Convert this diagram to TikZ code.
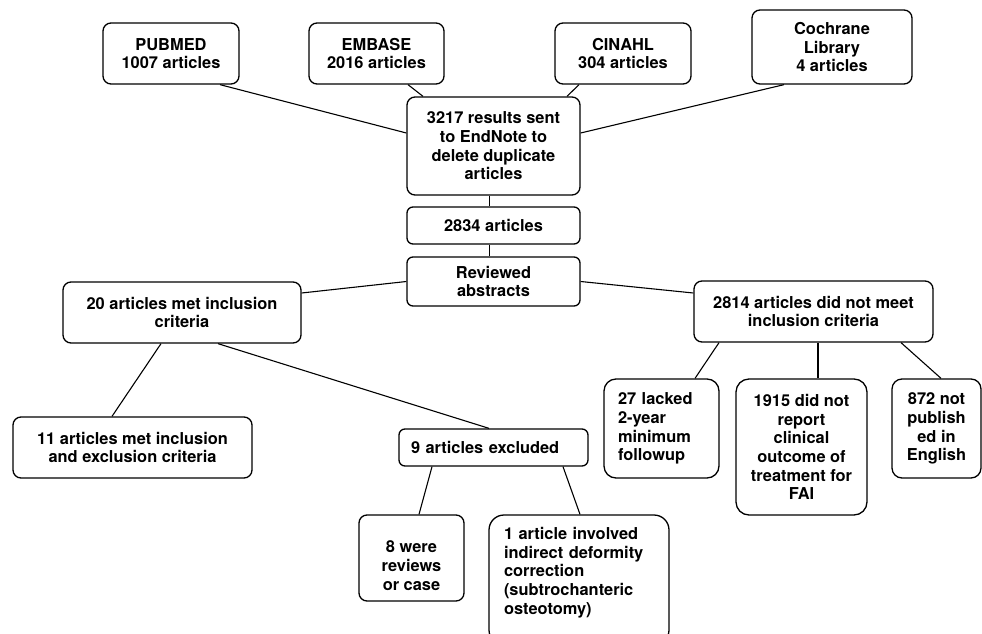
\documentclass[tikz,border=0pt]{standalone}
\usepackage{fontspec}
\setmainfont{TeX Gyre Heros}

\begin{document}
\begin{tikzpicture}[x=1pt, y=-1pt,
    box/.style={draw, line width=1.3pt, rounded corners=#1, inner sep=0pt,
        align=center, font=\bfseries\fontsize{16.4}{18.7}\selectfont},
    box/.default=8pt,
    link/.style={line width=1.1pt}]
    \useasboundingbox (0, 0) rectangle (982, 634);
    \clip (0, 0) rectangle (982, 634);

    % sources
    \node[box, minimum width=136pt, minimum height=61pt] (pubmed) at (171, 53.5) {PUBMED\\1007 articles};
    \node[box, minimum width=135pt, minimum height=61pt] (embase) at (376.5, 53.5) {EMBASE\\2016 articles};
    \node[box, minimum width=136pt, minimum height=61pt] (cinahl) at (623, 53.5) {CINAHL\\304 articles};
    \node[box, minimum width=160pt, minimum height=74pt] (cochrane) at (832, 47) {Cochrane\\Library\\4 articles};

    % screening
    \node[box, minimum width=173pt, minimum height=98pt] (endnote) at (493.5, 146) {3217 results sent\\to EndNote to\\delete duplicate\\articles};
    \node[box=6pt, minimum width=173pt, minimum height=37pt] (total) at (493.5, 225.5) {2834 articles};
    \node[box=6pt, minimum width=173pt, minimum height=49pt] (reviewed) at (493.5, 281.5) {Reviewed\\abstracts};

    % included
    \node[box, minimum width=238pt, minimum height=61pt] (met) at (182, 312.5) {20 articles met inclusion\\criteria};
    \node[box, minimum width=239pt, minimum height=61pt] (final) at (132.5, 447.5) {11 articles met inclusion\\and exclusion criteria};
    \node[box=6pt, align=left, text width=165pt, inner xsep=12pt, minimum height=37pt] (excluded) at (493.5, 447.5) {9 articles excluded};
    \node[box, minimum width=105pt, minimum height=86pt] (reviews) at (411.5, 558) {\rule{0pt}{27pt}8 were\\reviews\\or case};
    \node[box=15pt, align=left, text width=150pt, inner xsep=15pt, minimum height=130pt] (indirect) at (579, 580) {1 article involved\\indirect deformity\\correction\\(subtrochanteric\\osteotomy)\rule[-18.5pt]{0pt}{1pt}};

    % not included
    \node[box, minimum width=239pt, minimum height=61pt] (notmet) at (813.5, 311.5) {2814 articles did not meet\\inclusion criteria};
    \node[box=12pt, align=left, text width=87pt, inner xsep=14pt, minimum height=99pt] (followup) at (661.5, 428.5) {27 lacked\\2-year\\minimum\\followup};
    \node[box=13pt, minimum width=131pt, minimum height=136pt] (outcome) at (801.5, 447) {1915 did not\\report\\clinical\\outcome of\\treatment for\\FAI};
    \node[box=10pt, minimum width=89pt, minimum height=99pt] (english) at (936.5, 428.5) {872 not\\publish\\ed in\\English};

    \draw[link] ([xshift=49pt]pubmed.south) -- ([yshift=13pt]endnote.west);
    \draw[link] ([xshift=31.5pt]embase.south) -- ([xshift=-70.5pt]endnote.north);
    \draw[link] ([xshift=-44pt]cinahl.south) -- ([xshift=73.5pt]endnote.north);
    \draw[link] ([xshift=-48pt]cochrane.south) -- ([yshift=13pt]endnote.east);
    \draw[link] ([xshift=-4pt]endnote.south) -- ([xshift=-4pt]total.north);
    \draw[link] ([xshift=-4pt]total.south) -- ([xshift=-4pt]reviewed.north);
    \draw[link] (reviewed.west) -- ([yshift=19.5pt]met.east);
    \draw[link] (reviewed.east) -- ([yshift=18.5pt]notmet.west);
    \draw[link] ([xshift=-21pt]met.south) -- ([xshift=-20.5pt]final.north);
    \draw[link] ([xshift=36pt]met.south) -- ([xshift=-4.5pt]excluded.north);
    \draw[link] ([xshift=-61.5pt]excluded.south) -- ([xshift=7.5pt]reviews.north);
    \draw[link] ([xshift=69.5pt]excluded.south) -- ([xshift=1pt]indirect.north);
    \draw[link] ([xshift=-94.5pt]notmet.south) -- ([xshift=33.5pt]followup.north);
    \draw[link] ([xshift=4.5pt]notmet.south) -- ([xshift=16.5pt]outcome.north);
    \draw[link] ([xshift=87.5pt]notmet.south) -- ([xshift=4.5pt]english.north);
\end{tikzpicture}
\end{document}
